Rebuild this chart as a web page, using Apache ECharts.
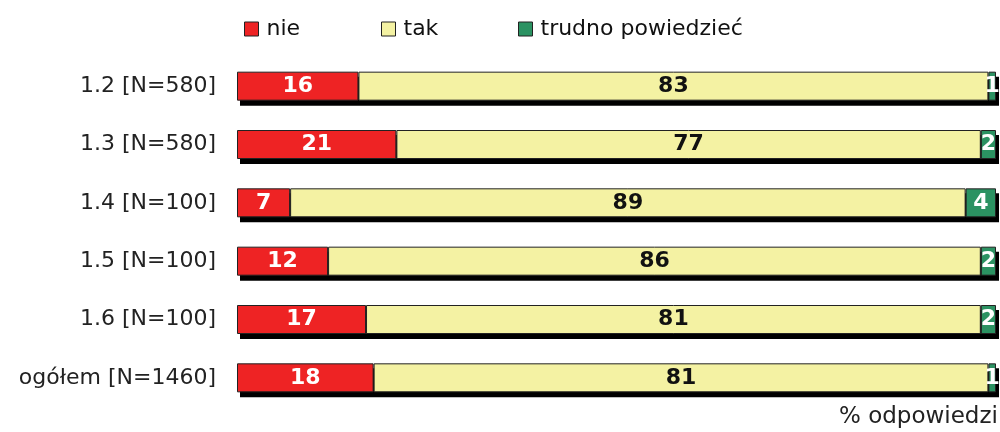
<!DOCTYPE html>
<html>
<head>
<meta charset="utf-8">
<script src="https://cdn.jsdelivr.net/npm/echarts@6/dist/echarts.min.js"></script>
<style>
  html, body { margin: 0; padding: 0; background: #fff; }
  #chart { width: 1000px; height: 432px; }
</style>
</head>
<body>
<div id="chart"></div>
<script>
// kategorie (pytania)
const categories = ['1.2 [N=580]', '1.3 [N=580]', '1.4 [N=100]', '1.5 [N=100]', '1.6 [N=100]', 'ogółem [N=1460]'];
// odpowiedzi w %
const nieValues = [16, 21, 7, 12, 17, 18];
const takValues = [83, 77, 89, 86, 81, 81];
const trudnoValues = [1, 2, 4, 2, 2, 1];

const FONT = 'DejaVu Sans';

// suma do cienia pod paskiem
const totals = nieValues.map((v, i) => v + takValues[i] + trudnoValues[i]);

function barSeries(name, data, color, labelColor) {
    return {
        name: name,
        type: 'bar',
        stack: 'total',
        data: data,
        barWidth: 29,
        z: 3,
        itemStyle: {
            color: color,
            borderColor: '#222',
            borderWidth: 1
        },
        label: {
            show: true,
            position: 'inside',
            color: labelColor,
            fontFamily: FONT,
            fontWeight: 'bold',
            fontSize: 22
        },
        emphasis: { disabled: true }
    };
}

function legendAt(name, left) {
    return {
        data: [name],
        left: left,
        top: 13,
        icon: 'rect',
        itemWidth: 14,
        itemHeight: 14,
        itemGap: 0,
        itemStyle: { borderColor: '#222', borderWidth: 1 },
        textStyle: { fontFamily: FONT, fontSize: 22, color: '#111', padding: [0, 0, 0, 3] },
        selectedMode: false
    };
}

const chart = echarts.init(document.getElementById('chart'));
chart.setOption({
    animation: false,
    legend: [legendAt('nie', 239), legendAt('tak', 376), legendAt('trudno powiedzieć', 513)],
    grid: [
        { left: 237, right: 4, top: 57, bottom: 25 },
        { left: 240, right: 1, top: 62, bottom: 20 }
    ],
    xAxis: [
        { type: 'value', min: 0, max: 100, show: false, gridIndex: 0 },
        { type: 'value', min: 0, max: 100, show: false, gridIndex: 1 }
    ],
    yAxis: [{
        type: 'category',
        data: categories,
        inverse: true,
        gridIndex: 0,
        axisLine: { show: false },
        axisTick: { show: false },
        axisLabel: { color: '#222', fontFamily: FONT, fontSize: 22, margin: 21 }
    }, {
        type: 'category',
        data: categories,
        inverse: true,
        gridIndex: 1,
        show: false
    }],
    graphic: [{
        type: 'text',
        left: 839,
        top: 406,
        style: { text: '% odpowiedzi', font: '23px "DejaVu Sans"', fill: '#222' }
    }],
    series: [
        {
            name: 'cień',
            type: 'bar',
            xAxisIndex: 1,
            yAxisIndex: 1,
            data: totals,
            barWidth: 29,
            z: 1,
            silent: true,
            itemStyle: { color: '#000' },
            emphasis: { disabled: true }
        },
        barSeries('nie', nieValues, '#EE2324', '#fff'),
        barSeries('tak', takValues, '#F4F2A3', '#111'),
        barSeries('trudno powiedzieć', trudnoValues, '#2B9262', '#fff')
    ]
});
</script>
</body>
</html>
